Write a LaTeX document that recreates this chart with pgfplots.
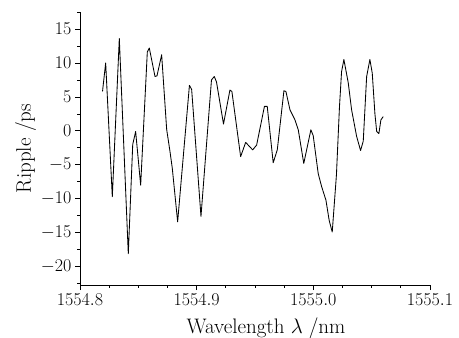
\RequirePackage{fix-cm}
\documentclass[border=0pt]{standalone}
\usepackage{pgfplots}
\pgfplotsset{compat=1.18}
\usetikzlibrary{calc}
\pgfplotstableread{
x y
1554.8193 5.8
1554.8220 10.0
1554.8277 -9.7
1554.8337 13.6
1554.8414 -18.1
1554.8452 -2.0
1554.8477 -0.1
1554.8520 -8.0
1554.8577 11.6
1554.8594 12.2
1554.8643 8.0
1554.8660 8.1
1554.8700 11.2
1554.8743 0.2
1554.8771 -3.0
1554.8791 -5.5
1554.8837 -13.4
1554.8938 6.7
1554.8957 6.1
1554.9037 -12.6
1554.9127 7.5
1554.9151 8.0
1554.9170 7.2
1554.9230 1.0
1554.9285 6.0
1554.9302 5.8
1554.9377 -3.8
1554.9420 -1.7
1554.9480 -2.8
1554.9514 -2.1
1554.9581 3.6
1554.9605 3.6
1554.9656 -4.7
1554.9691 -2.8
1554.9748 5.9
1554.9765 5.8
1554.9800 3.1
1554.9843 1.6
1554.9871 0.15
1554.9918 -4.8
1554.9979 0.15
1554.9999 -0.7
1555.0042 -6.3
1555.0071 -8.2
1555.0108 -10.2
1555.0136 -13.2
1555.0162 -14.9
1555.0198 -6.5
1555.0224 3.5
1555.0242 8.7
1555.0262 10.5
1555.0299 7.1
1555.0328 3.1
1555.0371 -0.8
1555.0405 -2.9
1555.0428 -1.5
1555.0457 8.0
1555.0485 10.5
1555.0505 8.5
1555.0528 2.5
1555.0543 -0.1
1555.0562 -0.4
1555.0579 1.6
1555.0599 2.1
}\ripple
\begin{document}
\begin{tikzpicture}[font=\fontsize{18}{21}\selectfont]
\begin{axis}[
  scale only axis,
  width=350pt, height=273pt,
  xmin=1554.8, xmax=1555.1,
  ymin=-22.7, ymax=17.5,
  axis x line*=bottom, axis y line*=left,
  axis line style={black, line width=0.7pt, -},
  xtick={1554.8,1554.9,1555.0,1555.1},
  minor xtick={1554.825,1554.85,1554.875,1554.925,1554.95,1554.975,1555.025,1555.05,1555.075},
  ytick={-20,-15,...,15},
  minor ytick={-22.5,-17.5,...,17.5},
  tick align=outside,
  major tick length=5pt, minor tick length=3pt,
  tick style={black, line width=0.7pt},
  xticklabel style={/pgf/number format/.cd, fixed, fixed zerofill, precision=1, 1000 sep={}},
  scaled x ticks=false,
  xlabel={Wavelength $\lambda\;$/nm},
  ylabel={Ripple /ps},
  xlabel style={font=\fontsize{21}{24}\selectfont, at={(rel axis cs:0.5,0)}, anchor=north, yshift=-29pt, xshift=11pt},
  ylabel style={font=\fontsize{21}{24}\selectfont, yshift=-2pt},
  clip=false,
]
\addplot[black, line width=0.85pt, line join=round] table[x=x, y=y] {\ripple};
\coordinate (sw) at (rel axis cs:0,0);
\coordinate (ne) at (rel axis cs:1,1);
\end{axis}
\pgfresetboundingbox
\path ($(sw)+(-80pt,-53pt)$) rectangle ($(ne)+(29pt,12pt)$);
\end{tikzpicture}
\end{document}
